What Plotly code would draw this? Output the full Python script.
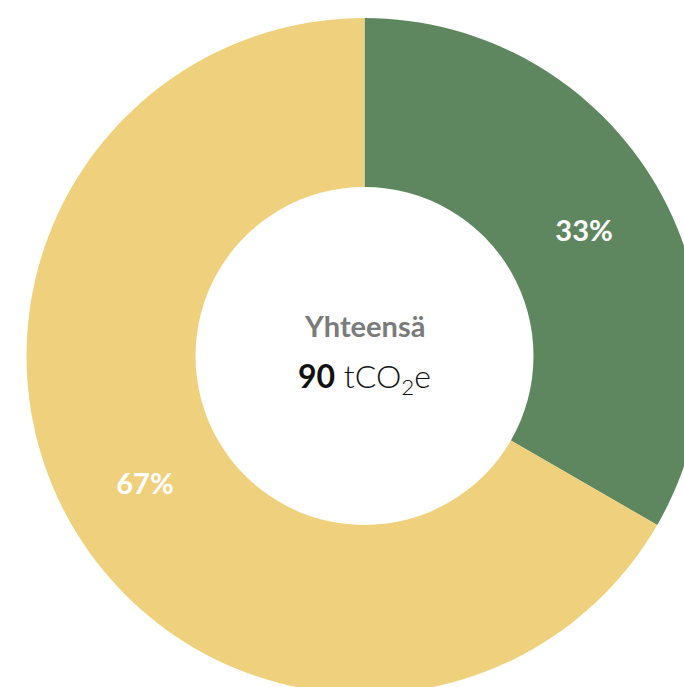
import plotly.graph_objects as go

labels = ["Osa A", "Osa B"]
values = [30, 60]
colors = ["#5E875F", "#EFD07C"]
total_label = "Yhteensä"
total_value = "90"
unit = "tCO<sub>2</sub>e"

# Figure is larger than the window so the donut runs off the right/bottom edges
W, H = 729, 712
R = 338

fig = go.Figure(go.Pie(
    labels=labels,
    values=values,
    hole=0.5,
    sort=False,
    direction="clockwise",
    rotation=0,
    marker=dict(colors=colors, line=dict(width=0)),
    texttemplate="%{percent:.0%}",
    textposition="inside",
    insidetextorientation="horizontal",
    textfont=dict(family="Lato", size=29, color="white", weight="bold"),
    showlegend=False,
    hoverinfo="label+value+percent",
    domain=dict(x=[0.5 - R / W, 0.5 + R / W], y=[0.5 - R / H, 0.5 + R / H]),
))

fig.add_annotation(
    x=0.5, y=1 - 325 / H, xref="paper", yref="paper",
    text=f"<b>{total_label}</b>", showarrow=False,
    font=dict(family="Lato", size=29, color="#7B7B7B"),
)
fig.add_annotation(
    x=0.5, y=1 - 378 / H, xref="paper", yref="paper",
    text=f"<b>{total_value}</b> {unit}", showarrow=False,
    font=dict(family="Lato", size=32, color="#111111", weight=300),
)

fig.update_layout(
    width=W, height=H,
    margin=dict(l=0, r=0, t=0, b=0),
    paper_bgcolor="white",
    plot_bgcolor="white",
)

fig.write_html(
    "out.html",
    config={"displayModeBar": False},
    post_script=(
        "document.documentElement.style.overflow='hidden';"
        "document.body.style.overflow='hidden';"
        "document.body.style.margin='0';"
    ),
)
